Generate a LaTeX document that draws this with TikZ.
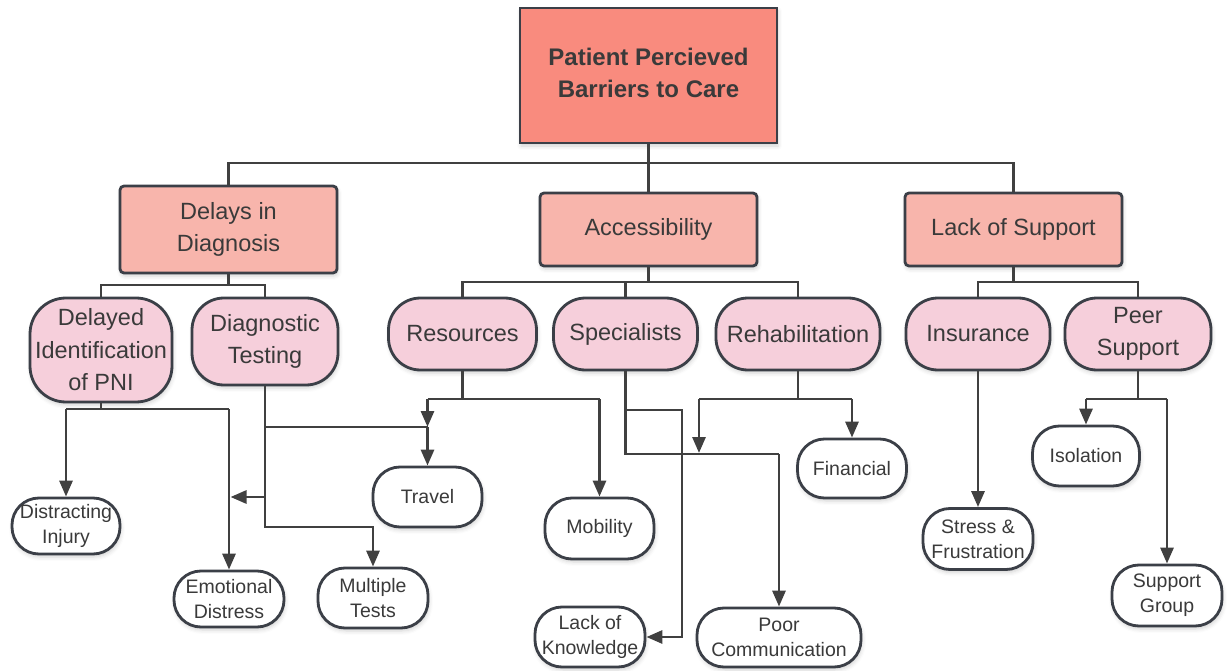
\documentclass[tikz,border=0pt]{standalone}
\usepackage{fontspec}
\setmainfont{Liberation Sans}
\usetikzlibrary{arrows.meta,shadows.blur}
\definecolor{edge}{HTML}{3B3F47}
\definecolor{wire}{HTML}{404040}
\definecolor{rootfill}{HTML}{F98B7E}
\definecolor{catfill}{HTML}{F8B5AC}
\definecolor{subfill}{HTML}{F6CFDB}
\definecolor{txt}{HTML}{3A3A3A}
\tikzset{
  base/.style={draw=edge, line width=2.8pt, align=center, inner sep=0pt, text=txt,
    blur shadow={shadow xshift=1pt, shadow yshift=-3pt, shadow blur radius=4pt, shadow opacity=18}},
  rootbox/.style={base, fill=rootfill, font=\bfseries\fontsize{24}{32}\selectfont},
  catbox/.style={base, fill=catfill, rounded corners=4pt, font=\fontsize{23.5}{32}\selectfont},
  subbox/.style={base, fill=subfill, rounded corners=32pt, font=\fontsize{23.5}{32.5}\selectfont, minimum height=72pt},
  leafbox/.style={base, fill=white, rounded corners=27pt, font=\fontsize{19.5}{25}\selectfont},
  wireline/.style={draw=wire, line width=2.9pt},
  arr/.style={wireline, -{Triangle[length=16pt,width=13pt]}}
}
\begin{document}
\begin{tikzpicture}[x=1pt,y=-1pt]
\useasboundingbox (0,0) rectangle (1232,671);
% nodes
\node[rootbox, minimum width=257pt, minimum height=135pt] (root) at (648.5,75.5) {Patient Percieved\\Barriers to Care\\[-26pt]\mbox{}};
\node[catbox, minimum width=217pt, minimum height=87pt] (dd) at (228.5,229.5) {Delays in\\Diagnosis};
\node[catbox, minimum width=217pt, minimum height=73pt] (acc) at (648.5,229.5) {Accessibility};
\node[catbox, minimum width=217pt, minimum height=73pt] (ls) at (1013.5,229.5) {Lack of Support};
\node[subbox, minimum width=142pt, minimum height=104pt, rounded corners=36pt] (dip) at (101,350) {Delayed\\Identification\\of PNI};
\node[subbox, minimum width=146pt, minimum height=87pt] (dgt) at (265,341.5) {Diagnostic\\Testing};
\node[subbox, minimum width=148pt] (res) at (462.5,334) {Resources};
\node[subbox, minimum width=144pt] (sp) at (625.5,334) {Specialists};
\node[subbox, minimum width=164pt] (rh) at (798,334) {Rehabilitation};
\node[subbox, minimum width=144pt] (ins) at (978,334) {Insurance};
\node[subbox, minimum width=146pt] (ps) at (1138,334) {Peer\\Support};
\node[leafbox, minimum width=108pt, minimum height=56pt] (di) at (66,526) {Distracting\\Injury};
\node[leafbox, minimum width=110pt, minimum height=56pt] (ed) at (229,599) {Emotional\\Distress};
\node[leafbox, minimum width=110pt, minimum height=60pt] (mt) at (373,598) {Multiple\\Tests};
\node[leafbox, minimum width=109pt, minimum height=60pt] (tr) at (427.5,497) {Travel};
\node[leafbox, minimum width=109pt, minimum height=61pt] (mob) at (599.5,528.5) {Mobility};
\node[leafbox, minimum width=110pt, minimum height=60pt] (lk) at (590,637) {Lack of\\Knowledge};
\node[leafbox, minimum width=164pt, minimum height=59pt] (pc) at (779,637.5) {Poor\\Communication};
\node[leafbox, minimum width=109pt, minimum height=59pt] (fin) at (852,468.5) {Financial};
\node[leafbox, minimum width=110pt, minimum height=61pt] (sf) at (978,539) {Stress \&\\Frustration};
\node[leafbox, minimum width=107pt, minimum height=60pt] (iso) at (1086,456) {Isolation};
\node[leafbox, minimum width=110pt, minimum height=61pt] (sg) at (1167,595.5) {Support\\Group};
% tree lines
\coordinate (busT) at (648.5,163);
\draw[wireline] (root.south) -- (acc.north);
\draw[wireline] (dd.north) |- (busT) -| (ls.north);
\coordinate (ddbus) at (228.5,285);
\draw[wireline] (dd.south) -- (ddbus);
\draw[wireline] (dip.north) |- (ddbus) -| (dgt.north);
\coordinate (accbus) at (648.5,282);
\draw[wireline] (acc.south) -- (accbus);
\draw[wireline] (res.north) |- (accbus) -| (rh.north);
\draw[wireline] (sp.north) -- (sp.north |- accbus);
\coordinate (lsbus) at (1013.5,282);
\draw[wireline] (ls.south) -- (lsbus);
\draw[wireline] (ins.north) |- (lsbus) -| (ps.north);
% Delayed identification
\coordinate (dipL) at (66,409);
\coordinate (dipR) at (229,409);
\draw[wireline] (dip.south) -- (dip.south |- dipL);
\draw[wireline] (dipL) -- (dipR);
\draw[arr] (dipL) -- (di.north);
\draw[arr] (dipR) -- (ed.north);
% Diagnostic testing
\coordinate (dgB) at (265,527);
\coordinate (trJ) at (427.5,427);
\coordinate (dgE) at (265,497);
\coordinate (edJ) at (230.5,497);
\draw[arr] (dgt.south) -- (dgB) -| (mt.north);
\draw[wireline] (dgt.south |- trJ) -- (trJ);
\draw[arr] (dgE) -- (edJ);
% Resources
\coordinate (resL) at (427.5,399);
\coordinate (resR) at (599.5,399);
\draw[wireline] (res.south) -- (res.south |- resL);
\draw[wireline] (resL) -- (resR);
\draw[arr] (resL) -- (trJ);
\draw[arr] (trJ) -- (tr.north);
\draw[arr] (resR) -- (mob.north);
% Specialists
\coordinate (spA) at (625.5,410);
\coordinate (spK) at (682,410);
\coordinate (spB) at (625.5,454);
\coordinate (spP) at (779,454);
\draw[wireline] (sp.south) -- (spB) -- (spP);
\draw[arr] (spP) -- (pc.north);
\draw[arr] (spA) -- (spK) |- (lk.east);
% Rehabilitation
\coordinate (rhL) at (699,399);
\coordinate (rhR) at (852,399);
\coordinate (rhJ) at (699,453);
\draw[wireline] (rh.south) -- (rh.south |- rhL);
\draw[wireline] (rhL) -- (rhR);
\draw[arr] (rhL) -- (rhJ);
\draw[arr] (rhR) -- (fin.north);
% Insurance
\draw[arr] (ins.south) -- (sf.north);
% Peer support
\coordinate (psL) at (1086,399);
\coordinate (psR) at (1167,399);
\draw[wireline] (ps.south) -- (ps.south |- psL);
\draw[wireline] (psL) -- (psR);
\draw[arr] (psL) -- (iso.north);
\draw[arr] (psR) -- (sg.north);
\end{tikzpicture}
\end{document}
